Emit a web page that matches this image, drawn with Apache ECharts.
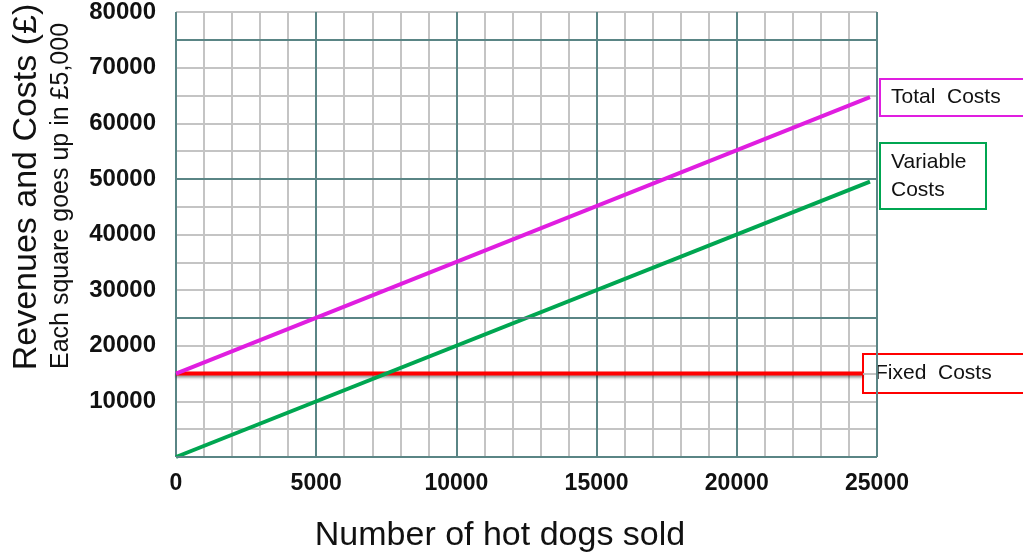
<!DOCTYPE html>
<html>
<head>
<meta charset="utf-8">
<script src="https://cdn.jsdelivr.net/npm/echarts@6/dist/echarts.min.js"></script>
<style>
  html, body { margin: 0; padding: 0; background: #fff; }
  #chart { width: 1023px; height: 558px; }
</style>
</head>
<body>
<div id="chart"></div>
<script>
// Hot dog stand cost lines
const unitsSold = [0, 24750];
const totalCosts = [15000, 64700];
const variableCosts = [0, 49500];
const fixedUnits = [0, 24500];
const fixedCosts = [15000, 15000];
const majorY = [0, 25000, 50000, 75000];

const FONT = '"Liberation Sans", Arial, sans-serif';
const MINOR = '#c4c4c4';
const MAJOR = '#5a8585';

const pairs = (xs, ys) => xs.map((x, i) => [x, ys[i]]);

const chart = echarts.init(document.getElementById('chart'));
chart.setOption({
  animation: false,
  grid: { left: 176, top: 9, width: 701, height: 448, containLabel: false },
  xAxis: {
    type: 'value', min: 0, max: 25000, interval: 5000,
    axisLine: { show: false },
    axisTick: { show: false },
    axisLabel: {
      fontFamily: FONT, fontWeight: 'bold', fontSize: 23, color: '#111', margin: 15,
      formatter: v => String(v)
    },
    splitLine: { show: true, lineStyle: { color: MAJOR, width: 2 } },
    minorTick: { show: false, splitNumber: 5 },
    minorSplitLine: { show: true, lineStyle: { color: MINOR, width: 2 } }
  },
  yAxis: {
    type: 'value', min: 0, max: 80000, interval: 10000,
    axisLine: { show: false },
    axisTick: { show: false },
    axisLabel: {
      fontFamily: FONT, fontWeight: 'bold', fontSize: 24, color: '#111', margin: 20,
      padding: [8, 0, 0, 0],
      formatter: v => (v === 0 ? '' : String(v))
    },
    splitLine: { show: true, lineStyle: { color: MINOR, width: 2 } },
    minorTick: { show: false, splitNumber: 2 },
    minorSplitLine: { show: true, lineStyle: { color: MINOR, width: 2 } }
  },
  series: [
    {
      // heavier rules every £25,000
      type: 'line', data: [], silent: true,
      markLine: {
        silent: true, symbol: 'none', label: { show: false },
        lineStyle: { color: MAJOR, width: 2, type: 'solid' },
        data: majorY.map(v => ({ yAxis: v }))
      },
      z: 1
    },
    {
      name: 'Fixed Costs', type: 'line', data: pairs(fixedUnits, fixedCosts),
      symbol: 'none', z: 3,
      lineStyle: { color: '#ff0000', width: 4, shadowColor: 'rgba(0,0,0,0.45)', shadowBlur: 3, shadowOffsetY: 2 }
    },
    {
      name: 'Variable Costs', type: 'line', data: pairs(unitsSold, variableCosts),
      symbol: 'none', z: 4,
      lineStyle: { color: '#00a651', width: 4 }
    },
    {
      name: 'Total Costs', type: 'line', data: pairs(unitsSold, totalCosts),
      symbol: 'none', z: 5,
      lineStyle: { color: '#e01ee0', width: 4 }
    }
  ],
  graphic: [
    {
      type: 'text', x: 500, y: 519,
      style: { text: 'Number of hot dogs sold', font: '34px ' + FONT, fill: '#111', align: 'center' }
    },
    {
      type: 'text', x: 10, y: 187, rotation: Math.PI / 2,
      style: { text: 'Revenues and Costs (£)', font: '34px ' + FONT, fill: '#111', align: 'center', verticalAlign: 'top' }
    },
    {
      type: 'text', x: 49, y: 196, rotation: Math.PI / 2,
      style: { text: 'Each square goes up in £5,000', font: '25px ' + FONT, fill: '#111', align: 'center', verticalAlign: 'top' }
    },
    {
      type: 'rect', shape: { x: 880, y: 79, width: 150, height: 37 },
      style: { fill: '#fff', stroke: '#e01ee0', lineWidth: 2 }
    },
    {
      type: 'text', x: 891, y: 87,
      style: { text: 'Total  Costs', font: '21px ' + FONT, fill: '#111' }
    },
    {
      type: 'rect', shape: { x: 880, y: 143, width: 106, height: 66 },
      style: { fill: '#fff', stroke: '#00a651', lineWidth: 2 }
    },
    {
      type: 'text', x: 891, y: 148,
      style: { text: 'Variable\nCosts', font: '21px ' + FONT, fill: '#111', lineHeight: 28 }
    },
    {
      type: 'rect', shape: { x: 863, y: 354, width: 170, height: 39 },
      style: { fill: '#fff', stroke: '#ff0000', lineWidth: 2 }
    },
    {
      type: 'text', x: 875, y: 363,
      style: { text: 'Fixed  Costs', font: '21px ' + FONT, fill: '#111' }
    }
  ]
});
</script>
</body>
</html>
